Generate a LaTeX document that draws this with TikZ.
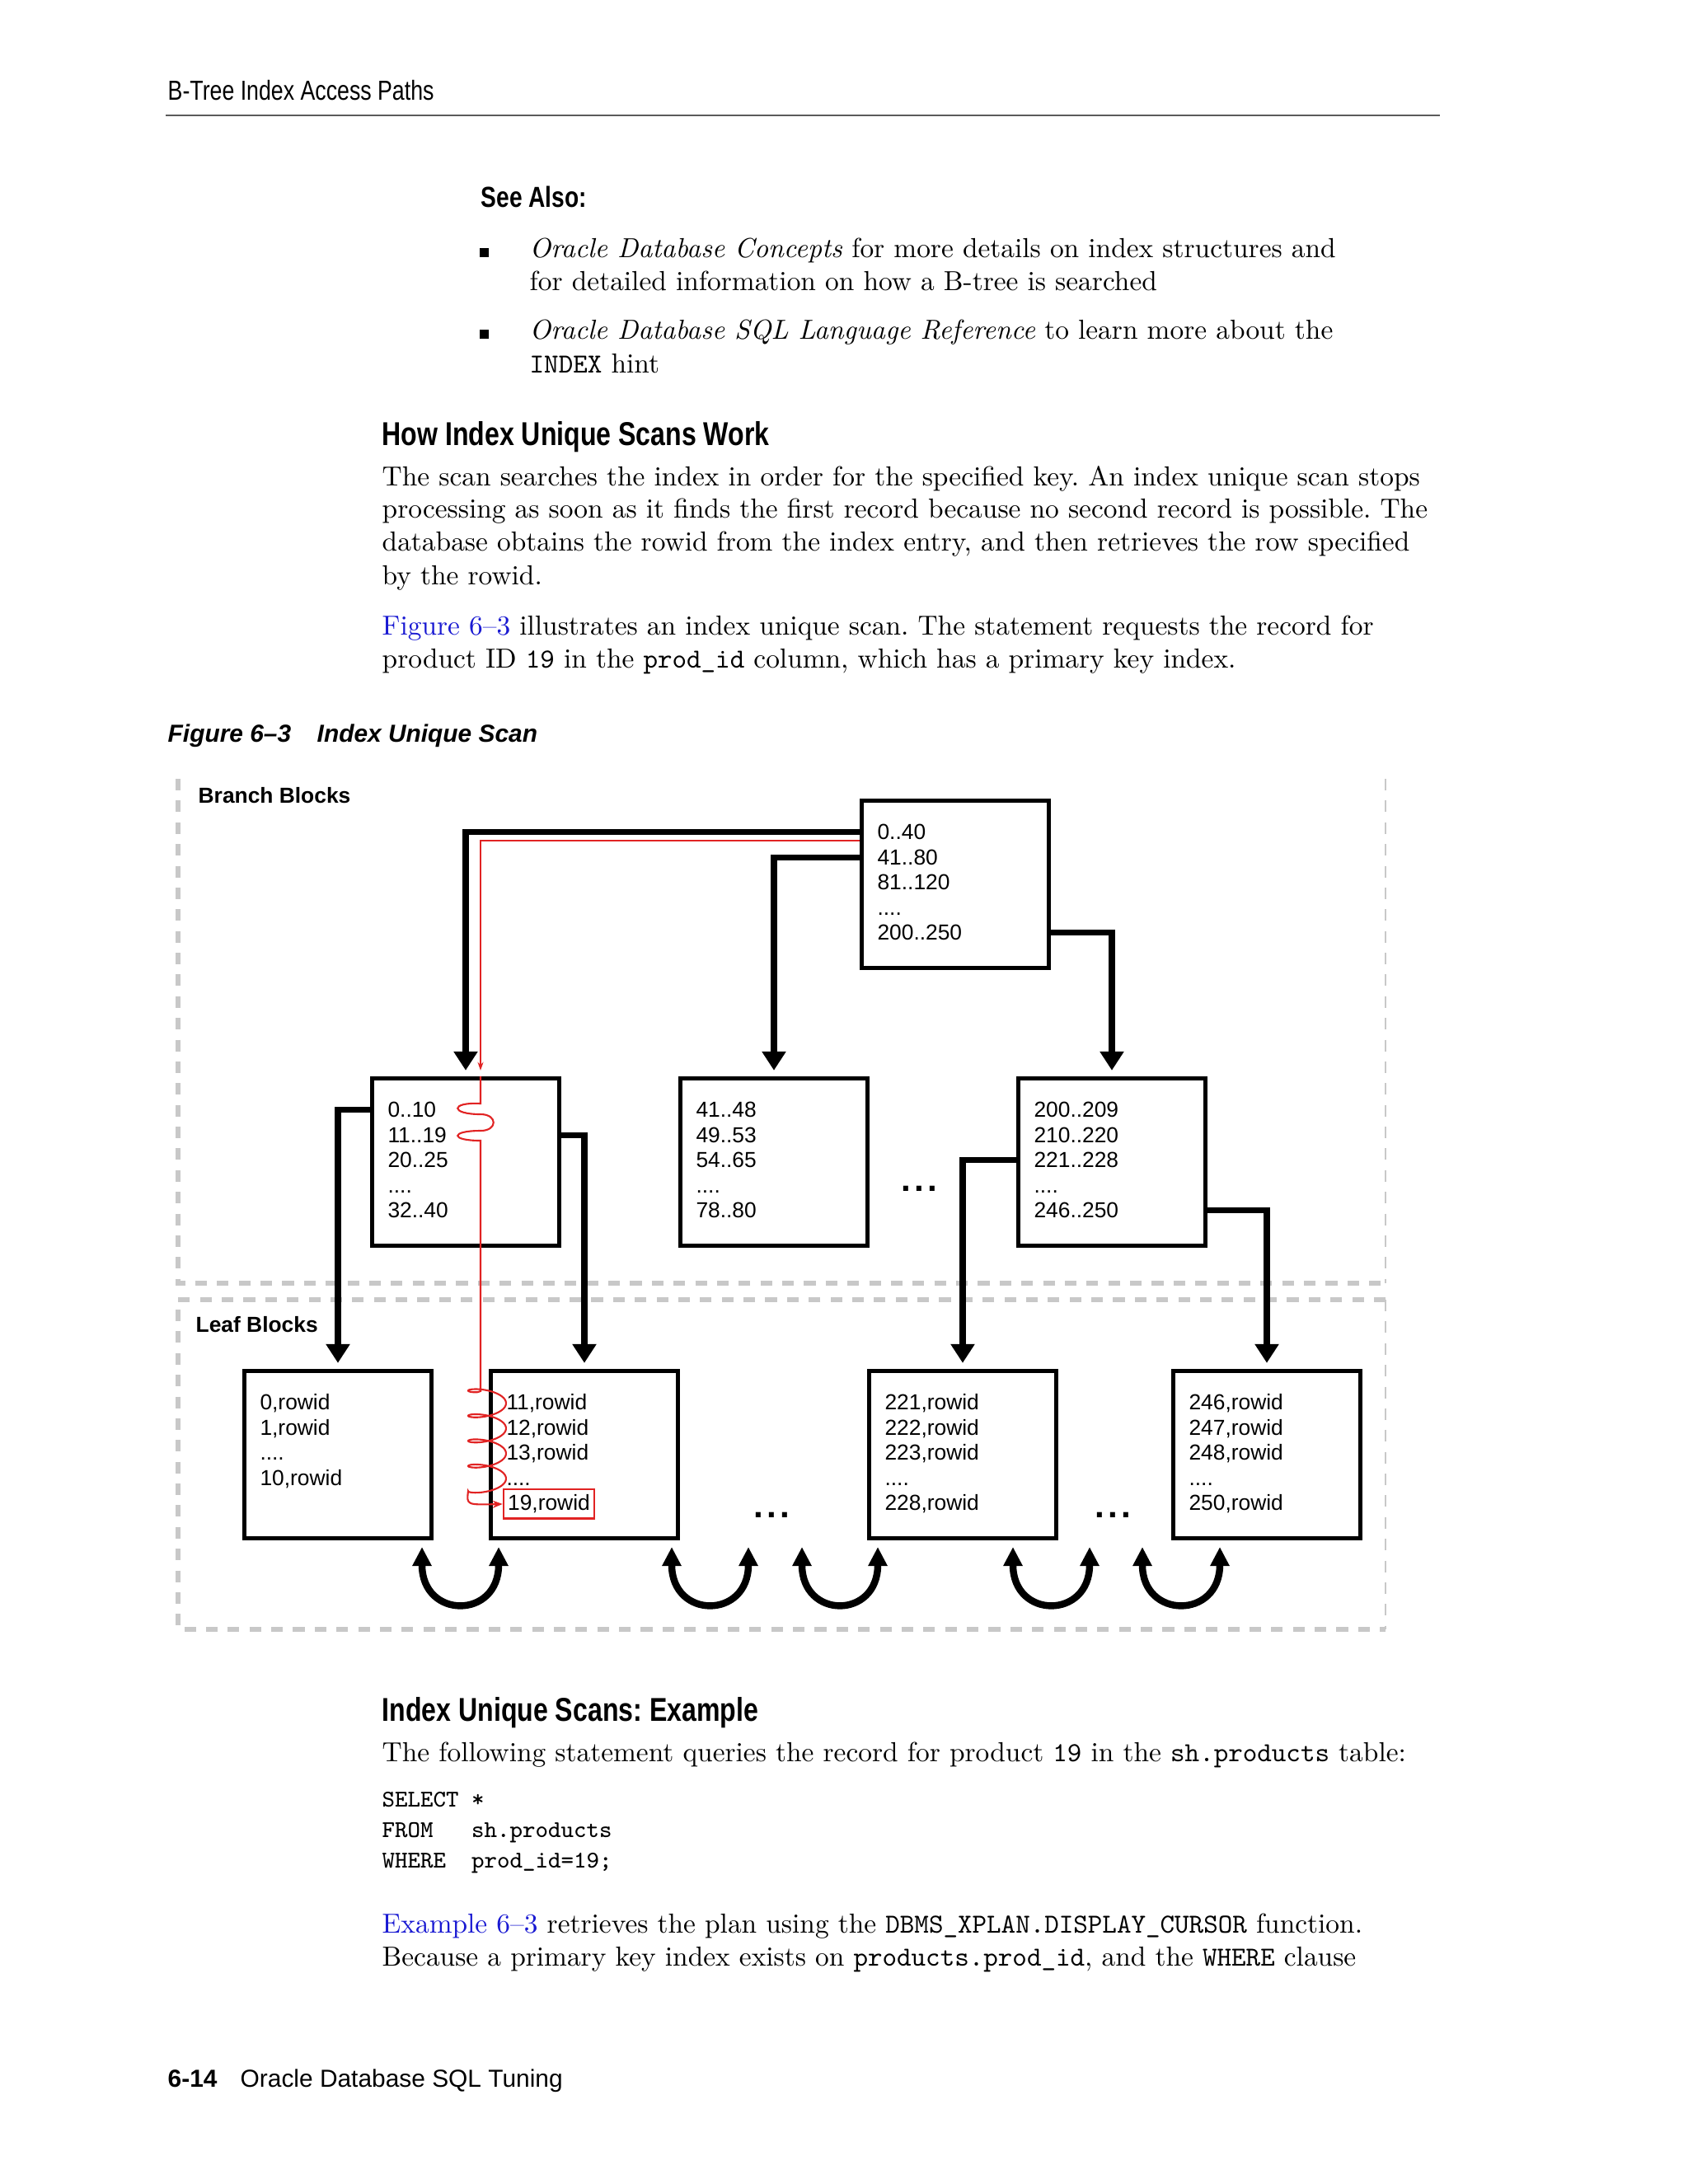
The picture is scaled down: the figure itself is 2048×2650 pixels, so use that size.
\documentclass[tikz,border=0pt]{standalone}
\usepackage{fontspec}
\usepackage{xcolor}
\usetikzlibrary{arrows.meta}
\newfontfamily\hsans{Liberation Sans}
\newfontfamily\hcond[FakeStretch=0.8]{Liberation Sans}
\definecolor{linkblue}{RGB}{25,25,210}
\definecolor{scanred}{RGB}{225,35,35}
\definecolor{zonegray}{RGB}{200,200,200}
\definecolor{rulegray}{RGB}{90,90,90}
\newcommand{\fd}{....}
% one text line per index entry, 30.5px apart
\newcommand{\rows}[2]{%
  \foreach \val [count=\i from 0] in {#2}
    \node[entry] (#1-\i) at ([shift={(21,50+30.5*\i)}]#1.north west) {\val};}
\frenchspacing

\begin{document}
\begin{tikzpicture}[x=0.01cm, y=-0.01cm,
    entry/.style={anchor=base west, inner sep=0pt, font=\hsans\fontsize{7.5}{9}\selectfont},
    block/.style={draw, line width=1.5pt, minimum width=\bw, minimum height=\bh, inner sep=0pt},
    tree/.style={line width=2pt, -{Triangle[length=0.23cm, width=0.28cm]}, shorten >=2pt},
    scan/.style={scanred, line width=0.6pt},
    link/.style={line width=2.4pt, {Triangle[length=0.23cm, width=0.22cm]}-{Triangle[length=0.23cm, width=0.22cm]}},
    zone/.style={zonegray, line width=1.6pt, dash pattern=on 4pt off 3.5pt},
    para/.style={anchor=base west, inner sep=0pt, font=\fontsize{9.5}{11}\selectfont},
    code/.style={anchor=base west, inner sep=0pt, font=\ttfamily\fontsize{8.3}{10}\selectfont},
    head/.style={anchor=base west, inner sep=0pt, font=\hcond\bfseries\fontsize{11.4}{13}\selectfont},
    label/.style={anchor=base west, inner sep=0pt, font=\hsans\bfseries\fontsize{7.5}{9}\selectfont},
    dots/.style={inner sep=0pt, font=\hsans\bfseries\fontsize{12}{14}\selectfont}]
  \def\bw{2.27cm}
  \def\bh{2.03cm}
  \useasboundingbox[fill=white] (0,0) rectangle (2048,2650);

  % page header
  \node[anchor=base west, inner sep=0pt, font=\hcond\fontsize{9.5}{11}\selectfont] (pagehead) at (203,121) {B-Tree Index Access Paths};
  \draw[rulegray, line width=0.7pt] (201,140) -- (1747,140);

  % see also
  \node[anchor=base west, inner sep=0pt, font=\hcond\bfseries\fontsize{10}{12}\selectfont] (seealso) at (583,251) {See Also:};
  \fill (582,301) rectangle (593,312);
  \fill (582,400) rectangle (593,411);
  \node[para] (sa1) at (642,312) {\textit{Oracle Database Concepts} for more details on index structures and};
  \node[para] (sa2) at (642,352) {for detailed information on how a B-tree is searched};
  \node[para] (sa3) at (642,411) {\textit{Oracle Database SQL Language Reference} to learn more about the};
  \node[para] (sa4) at (642,452) {\texttt{INDEX} hint};

  % how it works
  \node[head] (h1) at (463,540) {How Index Unique Scans Work};
  \node[para] (p1) at (463,589) {The scan searches the index in order for the specified key. An index unique scan stops};
  \node[para] (p2) at (463,628) {processing as soon as it finds the first record because no second record is possible. The};
  \node[para] (p3) at (463,668) {database obtains the rowid from the index entry, and then retrieves the row specified};
  \node[para] (p4) at (463,709) {by the rowid.};
  \node[para] (p5) at (463,770) {{\color{linkblue}Figure 6–3} illustrates an index unique scan. The statement requests the record for};
  \node[para] (p6) at (463,810) {product ID \texttt{19} in the \texttt{prod\_id} column, which has a primary key index.};

  % caption
  \node[anchor=base west, inner sep=0pt, font=\hsans\bfseries\itshape\fontsize{8.5}{10}\selectfont] (capnum) at (203,900) {Figure 6–3};
  \node[anchor=base west, inner sep=0pt, font=\hsans\bfseries\itshape\fontsize{8.5}{10}\selectfont] (captxt) at (384,900) {Index Unique Scan};

  % zones
  \draw[zone] (216,945) -- (216,1557) -- (1681,1557);
  \draw[zone, line width=0.7pt] (1681,945) -- (1681,1557);
  \draw[zone] (1681,1577) -- (216,1577) -- (216,1977) -- (1681,1977);
  \draw[zone, line width=0.7pt] (1681,1577) -- (1681,1977);
  \node[label] (branchlbl) at (240,974) {Branch Blocks};
  \node[label] (leaflbl) at (237,1616) {Leaf Blocks};

  % branch blocks
  \node[block] (root) at (1159,1073) {};
  \node[block] (br1) at (565,1410) {};
  \node[block] (br2) at (939,1410) {};
  \node[block] (br3) at (1349,1410) {};
  \rows{root}{0..40,41..80,81..120,\fd,200..250}
  \rows{br1}{0..10,11..19,20..25,\fd,32..40}
  \rows{br2}{41..48,49..53,54..65,\fd,78..80}
  \rows{br3}{200..209,210..220,221..228,\fd,246..250}
  \node[dots] (bdots) at (1115,1442) {.\hspace{1.2pt}.\hspace{1.2pt}.};

  % leaf blocks
  \node[block] (lf1) at (410,1765) {};
  \node[block] (lf2) at (709,1765) {};
  \node[block] (lf3) at (1168,1765) {};
  \node[block] (lf4) at (1537,1765) {};
  \rows{lf1}{{0,rowid},{1,rowid},\fd,{10,rowid}}
  \rows{lf2}{{11,rowid},{12,rowid},{13,rowid},\fd}
  \rows{lf3}{{221,rowid},{222,rowid},{223,rowid},\fd,{228,rowid}}
  \rows{lf4}{{246,rowid},{247,rowid},{248,rowid},\fd,{250,rowid}}
  \node[entry, draw=scanred, line width=0.6pt, inner xsep=1.5pt, inner ysep=1.8pt] (hit) at ([shift={(17,172)}]lf2.north west) {19,rowid};
  \node[dots] (ldots1) at (936,1838) {.\hspace{1.2pt}.\hspace{1.2pt}.};
  \node[dots] (ldots2) at (1350,1838) {.\hspace{1.2pt}.\hspace{1.2pt}.};

  % pointers
  \draw[tree] (root.west |- root-0) -| (br1.north);
  \draw[tree] (root.west |- root-1) -| (br2.north);
  \draw[tree] (root.east |- root-4) -| (br3.north);
  \draw[tree] (br1.west |- br1-0) -| (lf1.north);
  \draw[tree] (br1.east |- br1-1) -| (lf2.north);
  \draw[tree] (br3.west |- br3-2) -| (lf3.north);
  \draw[tree] (br3.east |- br3-4) -| (lf4.north);

  % sibling links
  \foreach \a/\b [count=\k] in {512/605, 815/908, 973/1065, 1229/1322, 1386/1480} {
    \coordinate (sib\k-l) at (\a,1877);
    \coordinate (sib\k-r) at (\b,1877);
    \draw[link] (sib\k-l) .. controls +(0,88) and +(0,88) .. (sib\k-r);
  }

  % the scan for key 19
  \coordinate (scan-start) at ([yshift=-0.1cm]root-0.west);
  \coordinate (scan-in) at ([xshift=0.18cm]br1.north);
  \draw[scan, -{Stealth[length=0.1cm, width=0.07cm]}, shorten >=2pt] (root.west |- scan-start) -| (scan-in);
  \draw[scan, -{Stealth[length=0.12cm, width=0.09cm]}] (scan-in) -- (583,1339)
    .. controls (546,1337) and (546,1352) .. (583,1352)
    .. controls (604,1352) and (604,1372) .. (583,1372)
    .. controls (546,1372) and (546,1384) .. (583,1384)
    -- (583,1688)
    -- plot[variable=\t, domain=-2.59:23.56, samples=180] ({591+23*sin(\t r)}, {1695+4.85*\t-8*cos(\t r)})
    .. controls (566,1826) .. (hit.west);

  % example
  \node[head] (h2) at (463,2088) {Index Unique Scans: Example};
  \node[para] (p7) at (463,2137) {The following statement queries the record for product \texttt{19} in the \texttt{sh.products} table:};
  \node[code] (c1) at (463,2192) {SELECT *};
  \node[code] (c2) at (463,2229) {FROM\ \ \ sh.products};
  \node[code] (c3) at (463,2266) {WHERE\ \ prod\_id=19;};
  \node[para] (p8) at (463,2345) {{\color{linkblue}Example 6–3} retrieves the plan using the \texttt{DBMS\_XPLAN.DISPLAY\_CURSOR} function.};
  \node[para] (p9) at (463,2385) {Because a primary key index exists on \texttt{products.prod\_id}, and the \texttt{WHERE} clause};

  % page footer
  \node[anchor=base west, inner sep=0pt, font=\hsans\bfseries\fontsize{8.5}{10}\selectfont] (pagenum) at (203,2532) {6-14};
  \node[anchor=base west, inner sep=0pt, font=\hsans\fontsize{8.5}{10}\selectfont] (booktitle) at (291,2532) {Oracle Database SQL Tuning};
\end{tikzpicture}
\end{document}
